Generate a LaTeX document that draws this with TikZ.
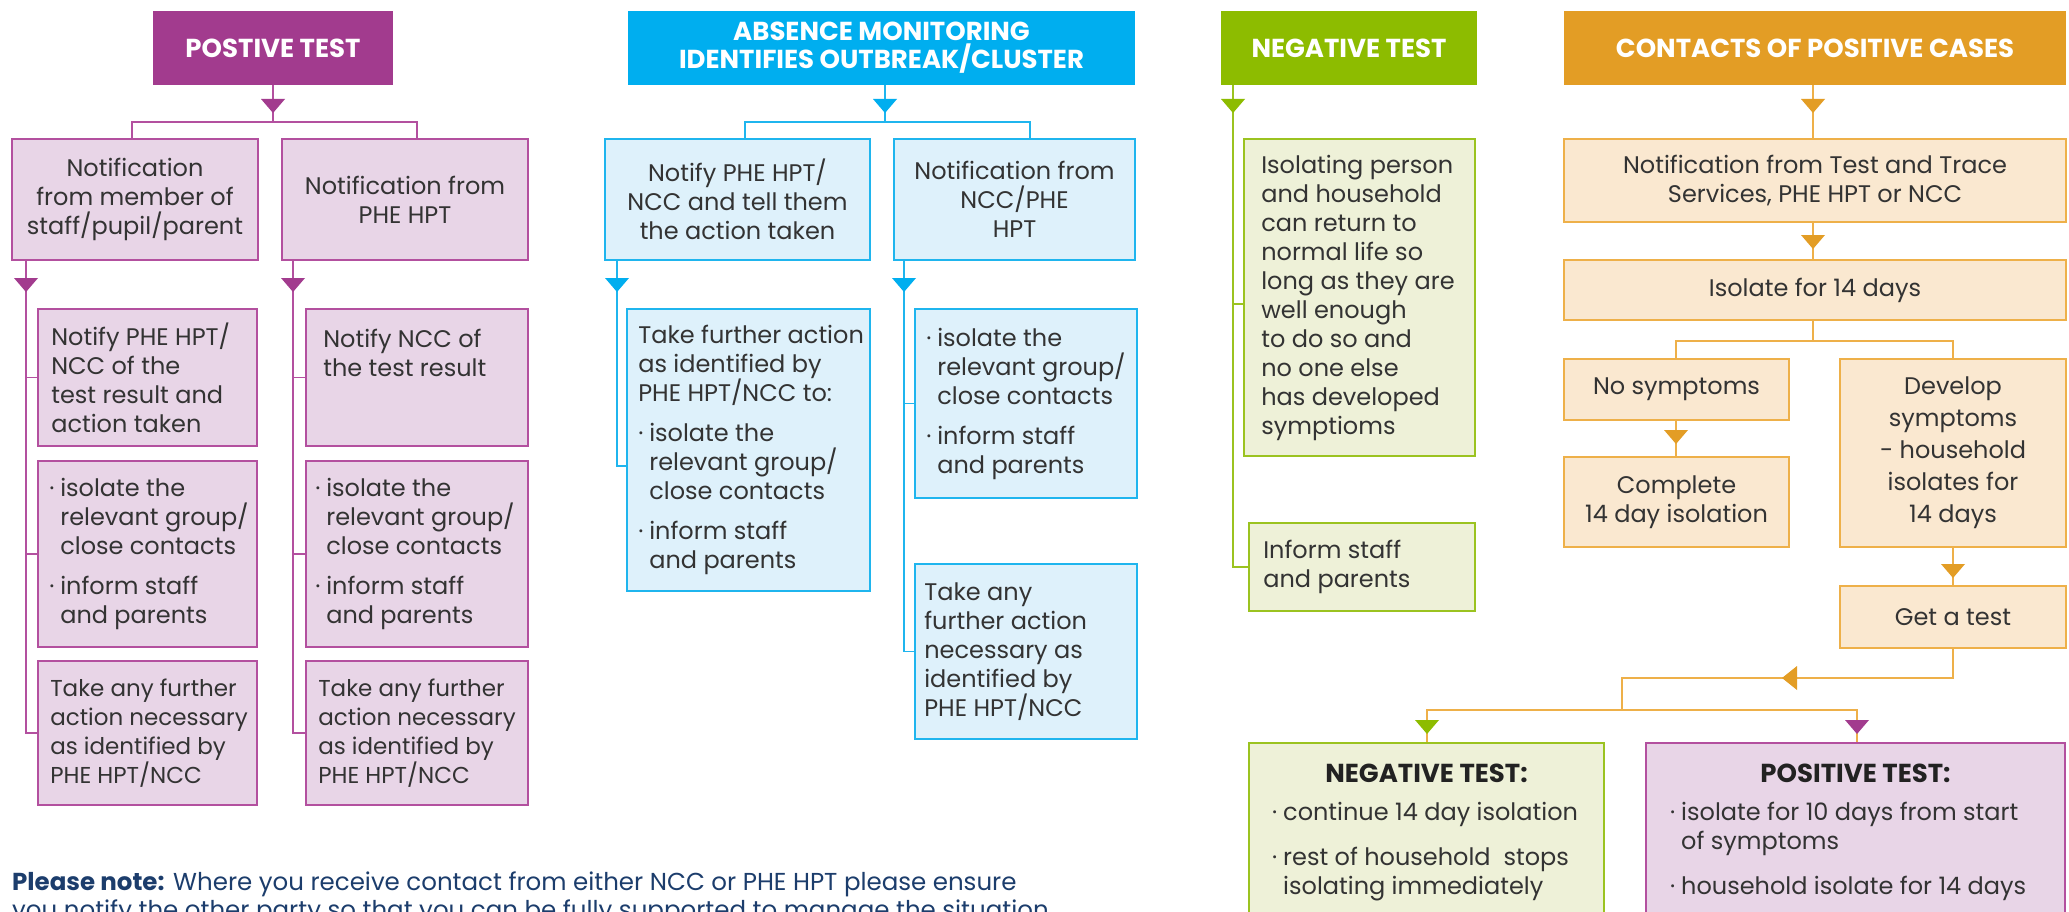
\documentclass[tikz,border=0pt]{standalone}
\usepackage{fontspec}
\setmainfont{Poppins}
\usetikzlibrary{calc}
\definecolor{pur}{HTML}{A23B8E}
\definecolor{purfill}{HTML}{E8D5E7}
\definecolor{purline}{HTML}{B3509F}
\definecolor{blu}{HTML}{00AEEF}
\definecolor{blufill}{HTML}{DEF1FB}
\definecolor{bluline}{HTML}{1FB5EE}
\definecolor{grn}{HTML}{8DBC00}
\definecolor{grnfill}{HTML}{EEF1D8}
\definecolor{grnline}{HTML}{9BC320}
\definecolor{org}{HTML}{E39D25}
\definecolor{orgfill}{HTML}{FAE8D0}
\definecolor{orgline}{HTML}{EEB049}
\definecolor{txt}{HTML}{333333}
\definecolor{dark}{HTML}{222222}
\definecolor{navy}{HTML}{1C3D6C}
\newcommand\bodyfont{\fontsize{24}{29}\selectfont}
\newcommand\smallbody{\fontsize{23}{29}\selectfont}
\newcommand\notefont{\fontsize{24.5}{28}\selectfont}
\newcommand\hdrfont{\fontsize{26}{28}\selectfont\bfseries}
\newcommand\bul{\makebox[11pt][l]{·}}
\newcommand\ind{\hspace*{11pt}}
\newcommand\tri[2]{\fill[#1] #2 ++(-12,0) -- ++(24,0) -- ++(-12,14) -- cycle;}
% name, style, x1, y1, x2, y2, text
\newcommand\bx[7]{\node[#2, minimum width={#5-#3}, minimum height={#6-#4}] (#1) at ({(#3+#5)/2},{(#4+#6)/2}) {#7};}
\begin{document}
\begin{tikzpicture}[x=1pt,y=-1pt,
  hdr/.style={fill=#1, inner sep=0pt, text=white, font=\hdrfont, align=center},
  boxbase/.style={line width=1.8pt, inner sep=0pt, text=txt, font=\bodyfont, align=center},
  pb/.style={boxbase, draw=purline, fill=purfill},
  bb/.style={boxbase, draw=bluline, fill=blufill},
  gb/.style={boxbase, draw=grnline, fill=grnfill},
  ob/.style={boxbase, draw=orgline, fill=orgfill},
  tl/.style={text=txt, font=\bodyfont, align=left, anchor=west, inner sep=0pt},
  plc/.style={draw=purline, line width=1.6pt},
  blc/.style={draw=bluline, line width=1.6pt},
  glc/.style={draw=grnline, line width=1.6pt},
  olc/.style={draw=orgline, line width=1.6pt}]
\useasboundingbox (0,0) rectangle (2069,912);
\fill[white] (0,0) rectangle (2069,912);
\clip (0,0) rectangle (2069,912);

% ---------------- Column 1: positive test
\bx{hP}{hdr=pur}{153}{11}{393}{85}{POSTIVE TEST}
\bx{A1}{pb}{12}{139}{258}{260}{Notification\\from member of\\staff/pupil/parent}
\bx{B1}{pb}{282}{139}{528}{260}{Notification from\\PHE HPT}
\bx{A2}{pb}{38}{309}{257}{446}{}
\node[tl] (A2t) at ([xshift=14pt]A2.west) {Notify PHE HPT/\\NCC of the\\test result and\\action taken};
\bx{A3}{pb}{38}{461}{257}{647}{}
\node[tl] (A3t) at ([xshift=12pt]A3.west) {\bul isolate the\\\ind relevant group/\\\ind close contacts\\[11pt]\bul inform staff\\\ind and parents};
\bx{A4}{pb}{38}{661}{257}{805}{}
\node[tl, font=\smallbody] (A4t) at ([xshift=13pt]A4.west) {Take any further\\action necessary\\as identified by\\PHE HPT/NCC};
\bx{B2}{pb}{306}{309}{528}{446}{}
\node[tl, anchor=north west] (B2t) at ([xshift=18pt,yshift=-21pt]B2.north west) {Notify NCC of\\the test result};
\bx{B3}{pb}{306}{461}{528}{647}{}
\node[tl] (B3t) at ([xshift=10pt]B3.west) {\bul isolate the\\\ind relevant group/\\\ind close contacts\\[11pt]\bul inform staff\\\ind and parents};
\bx{B4}{pb}{306}{661}{528}{805}{}
\node[tl, font=\smallbody] (B4t) at ([xshift=13pt]B4.west) {Take any further\\action necessary\\as identified by\\PHE HPT/NCC};

\draw[plc] (hP.south) -- (hP.south |- 0,122);
\draw[plc] (A1.north -| 132,0) -- (132,122) -- (417,122) -- (B1.north -| 417,0);
\draw[plc] (A1.south -| 26,0) |- (A4.west);
\draw[plc] (A2.west -| 26,0) -- (A2.west);
\draw[plc] (A3.west -| 26,0) -- (A3.west);
\draw[plc] (B1.south -| 293,0) |- (B4.west);
\draw[plc] (B2.west -| 293,0) -- (B2.west);
\draw[plc] (B3.west -| 293,0) -- (B3.west);
\tri{pur}{(273,99)}
\tri{pur}{(26,278)}
\tri{pur}{(293,278)}

% ---------------- Column 2: absence monitoring
\bx{hA}{hdr=blu}{628}{11}{1135}{85}{ABSENCE MONITORING\\IDENTIFIES OUTBREAK/CLUSTER}
\bx{C1}{bb}{605}{139}{870}{260}{Notify PHE HPT/\\NCC and tell them\\the action taken}
\bx{D1}{bb}{894}{139}{1135}{260}{Notification from\\NCC/PHE\\HPT}
\bx{C2}{bb}{627}{309}{870}{591}{}
\node[tl] (C2t) at ([xshift=12pt]C2.west) {Take further action\\as identified by\\PHE HPT/NCC to:\\[11pt]\bul isolate the\\\ind relevant group/\\\ind close contacts\\[11pt]\bul inform staff\\\ind and parents};
\bx{D2}{bb}{915}{309}{1137}{498}{}
\node[tl] (D2t) at ([xshift=12pt]D2.west) {\bul isolate the\\\ind relevant group/\\\ind close contacts\\[11pt]\bul inform staff\\\ind and parents};
\bx{D3}{bb}{915}{564}{1137}{739}{}
\node[tl] (D3t) at ([xshift=10pt]D3.west) {Take any\\further action\\necessary as\\identified by\\PHE HPT/NCC};

\draw[blc] (hA.south -| 885,0) -- (885,122);
\draw[blc] (C1.north -| 745,0) -- (745,122) -- (1030,122) -- (D1.north -| 1030,0);
\draw[blc] (C1.south -| 617,0) |- (C2.west |- 0,466);
\draw[blc] (D1.south -| 904,0) |- (D3.west);
\draw[blc] (D2.west -| 904,0) -- (D2.west);
\tri{blu}{(885,99)}
\tri{blu}{(617,278)}
\tri{blu}{(904,278)}

% ---------------- Column 3: negative test
\bx{hN}{hdr=grn}{1221}{11}{1477}{85}{NEGATIVE TEST}
\bx{E1}{gb}{1244}{139}{1475}{456}{}
\node[tl] (E1t) at ([xshift=18pt]E1.west) {Isolating person\\and household\\can return to\\normal life so\\long as they are\\well enough\\to do so and\\no one else\\has developed\\symptioms};
\bx{E2}{gb}{1249}{523}{1475}{611}{}
\node[tl] (E2t) at ([xshift=15pt]E2.west) {Inform staff\\and parents};

\coordinate (gbr) at (1233,304);
\draw[glc] (hN.south -| gbr) |- (E2.west);
\draw[glc] (gbr) -- (E1.west |- gbr);
\tri{grn}{(1233,99)}

% ---------------- Column 4: contacts of positive cases
\bx{hC}{hdr=org}{1564}{11}{2066}{85}{CONTACTS OF POSITIVE CASES}
\bx{F1}{ob}{1564}{139}{2066}{222}{Notification from Test and Trace\\Services, PHE HPT or NCC}
\bx{F2}{ob}{1564}{260}{2066}{320}{Isolate for 14 days}
\bx{G1}{ob}{1564}{359}{1789}{420}{No symptoms}
\bx{G2}{ob}{1564}{457}{1789}{547}{Complete\\14 day isolation}
\bx{H1}{ob}{1840}{359}{2066}{547}{Develop\\[3pt]symptoms\\[3pt]- household\\[3pt]isolates for\\[3pt]14 days}
\bx{I1}{ob}{1840}{586}{2066}{648}{Get a test}
\bx{J}{gb}{1249}{743}{1604}{940}{}
\bx{K}{pb}{1646}{743}{2065}{940}{}
\node[font=\hdrfont, text=dark, inner sep=0pt] (Jt) at (J.north |- 0,773) {NEGATIVE TEST:};
\node[tl, anchor=base west] (Jb) at (1272,894) {\bul continue 14 day isolation\\[16pt]\bul rest of household\ \ stops\\\ind isolating immediately};
\node[font=\hdrfont, text=dark, inner sep=0pt] (Kt) at (K.north |- 0,773) {POSITIVE TEST:};
\node[tl, anchor=base west] (Kb) at (1670,894) {\bul isolate for 10 days from start\\\ind of symptoms\\[16pt]\bul household isolate for 14 days};

\draw[olc] (hC.south -| 1813,0) -- (F1.north -| 1813,0);
\draw[olc] (F1.south -| 1813,0) -- (F2.north -| 1813,0);
\draw[olc] (F2.south -| 1813,0) -- (1813,341);
\draw[olc] (G1.north -| 1676,0) -- (1676,341) -- (1953,341) -- (H1.north -| 1953,0);
\draw[olc] (G1.south -| 1676,0) -- (G2.north -| 1676,0);
\draw[olc] (H1.south -| 1953,0) -- (I1.north -| 1953,0);
\draw[olc] (I1.south -| 1953,0) |- (1622,678) -- (1622,710);
\draw[olc] (J.north -| 1427,0) -- (1427,710) -- (1857,710) -- (K.north -| 1857,0);
\tri{org}{(1813,99)}
\tri{org}{(1813,235)}
\tri{org}{(1676,430)}
\tri{org}{(1953,564)}
\fill[org] (1782,678) -- (1797,666) -- (1797,690) -- cycle;
\tri{grn}{(1427,720)}
\tri{pur}{(1857,720)}

% ---------------- Note
\node[anchor=base west, inner sep=0pt, font=\notefont, text=navy, align=left] (note) at (12,918) {\textbf{Please note:} Where you receive contact from either NCC or PHE HPT please ensure\\you notify the other party so that you can be fully supported to manage the situation.};
\end{tikzpicture}
\end{document}
